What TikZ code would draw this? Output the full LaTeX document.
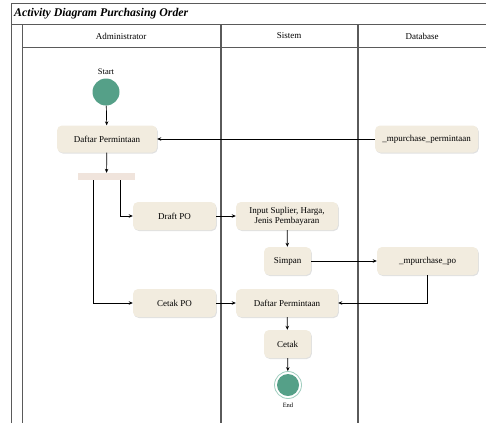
\documentclass[tikz,border=0pt]{standalone}
\usepackage{fontspec}
\setmainfont{Liberation Serif}
\usetikzlibrary{arrows.meta,shadows}
\definecolor{boxfill}{HTML}{F2ECDF}
\definecolor{forkfill}{HTML}{F0E4DC}
\definecolor{startgreen}{HTML}{55A088}
\definecolor{ringgreen}{HTML}{9FCDBE}
\definecolor{frame}{HTML}{5A5A5A}
\tikzset{
  act/.style={rectangle, rounded corners=5pt, fill=boxfill, draw=none, align=center,
    font=\fontsize{9}{10}\selectfont, inner sep=2pt,
    drop shadow={shadow xshift=0.8pt, shadow yshift=-1pt, fill=black!20, opacity=0.6}},
  conn/.style={draw=black, line width=0.7pt, -{Stealth[length=4pt,width=3.5pt]}},
  lane/.style={draw=frame, line width=1.4pt},
  thin lane/.style={draw=frame, line width=0.9pt},
  hdr/.style={font=\fontsize{9}{10}\selectfont}
}
\begin{document}
\begin{tikzpicture}[x=1pt,y=-1pt]
\useasboundingbox (0,0) rectangle (486,423);
% frame
\draw[thin lane] (11,423) -- (11,3) -- (486,3);
\draw[thin lane] (11,24) -- (486,24);
\draw[thin lane] (22,24) -- (22,423);
\draw[thin lane] (22,47) -- (486,47);
\draw[lane] (221,24) -- (221,423);
\draw[lane] (358,24) -- (358,423);
\node[anchor=west, font=\fontsize{11.8}{13}\selectfont\bfseries\itshape, inner sep=1pt] (title) at (13,13.5) {Activity Diagram Purchasing Order};
\node[hdr] (h1) at (121,36) {Administrator};
\node[hdr] (h2) at (289,36) {Sistem};
\node[hdr] (h3) at (422,36) {Database};
% nodes
\node[font=\fontsize{8.5}{9}\selectfont] (startlbl) at (106,72) {Start};
\node[circle, fill=startgreen, minimum size=27pt, inner sep=0pt] (start) at (106,92) {};
\node[act, minimum width=100pt, minimum height=27pt] (dp1) at (107,139) {Daftar Permintaan};
\node[rectangle, fill=forkfill, minimum width=57pt, minimum height=7pt, inner sep=0pt] (fork) at (106.5,176.5) {};
\node[act, minimum width=83pt, minimum height=28pt] (draft) at (174.5,216) {Draft PO};
\node[act, minimum width=83pt, minimum height=28pt] (cetakpo) at (174.5,303) {Cetak PO};
\node[act, minimum width=102pt, minimum height=28pt] (input) at (287,216) {Input Suplier, Harga,\\Jenis Pembayaran};
\node[act, minimum width=47pt, minimum height=28pt] (simpan) at (287.5,261) {Simpan};
\node[act, minimum width=101pt, minimum height=28pt] (po) at (427.5,261) {\_mpurchase\_po};
\node[act, minimum width=103pt, minimum height=27pt] (perm) at (426.5,139) {\_mpurchase\_permintaan};
\node[act, minimum width=102pt, minimum height=28pt] (dp2) at (287,303) {Daftar Permintaan};
\node[act, minimum width=47pt, minimum height=28pt] (cetak) at (287.5,344) {Cetak};
\node[circle, draw=ringgreen, line width=0.8pt, fill=white, minimum size=27pt, inner sep=0pt] (end) at (288,385) {};
\node[circle, fill=startgreen, minimum size=22pt, inner sep=0pt] (endin) at (end.center) {};
\node[font=\fontsize{6.5}{7}\selectfont] (endlbl) at (288,405.5) {End};
% connectors
\draw[conn] (start) -- (dp1);
\draw[conn] (perm) -- (dp1);
\draw[conn] (dp1) -- (fork);
\draw[conn] (fork.south -| 120,0) |- (draft.west);
\draw[conn] (fork.south -| 93,0) |- (cetakpo.west);
\draw[conn] (draft) -- (input);
\draw[conn] (input) -- (simpan);
\draw[conn] (simpan) -- (po);
\draw[conn] (po.south) |- (dp2.east);
\draw[conn] (cetakpo) -- (dp2);
\draw[conn] (dp2) -- (cetak);
\draw[conn] (cetak) -- (end);
\end{tikzpicture}
\end{document}
